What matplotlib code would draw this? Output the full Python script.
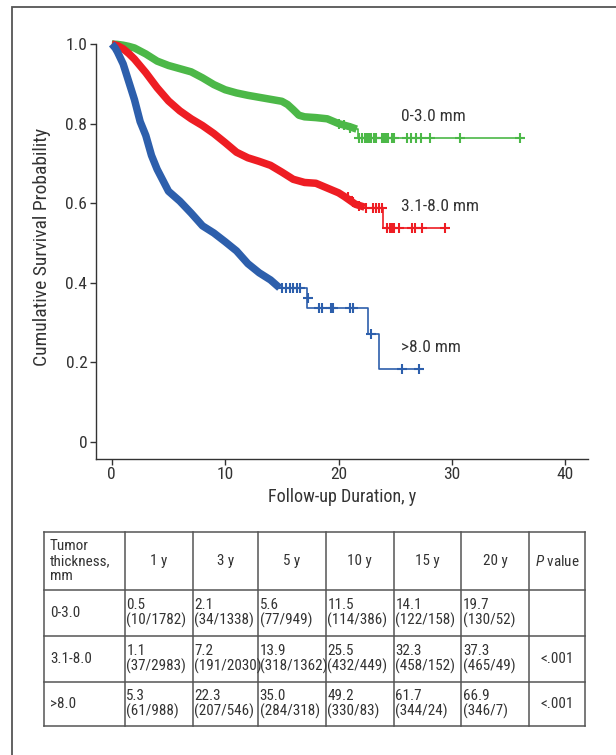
import matplotlib
matplotlib.use("Agg")
import matplotlib.pyplot as plt
from matplotlib import font_manager

# ---------------- data ----------------
groups = ["0-3.0 mm", "3.1-8.0 mm", ">8.0 mm"]
colors = ["#4cb848", "#ee1d23", "#2d5fac"]

# heavily censored (dense) part of each Kaplan-Meier curve
green_band_t = [0, 0.5, 1, 1.5, 2, 3, 4, 5, 6, 7, 8, 9, 10, 11, 12, 13, 14, 15,
                15.5, 16, 16.5, 17, 18, 19, 19.5, 20, 21, 21.6]
green_band_s = [1.0, 0.999, 0.997, 0.994, 0.99, 0.975, 0.957, 0.946, 0.938, 0.93,
                0.915, 0.898, 0.885, 0.877, 0.871, 0.866, 0.861, 0.856, 0.848,
                0.835, 0.821, 0.817, 0.815, 0.812, 0.806, 0.800, 0.792, 0.786]
red_band_t = [0, 0.5, 1, 1.5, 2, 3, 4, 5, 6, 7, 8, 9, 10, 11, 12, 13, 14, 15, 16,
              17, 18, 19, 20, 20.5, 21, 21.5, 22.3]
red_band_s = [1.0, 0.996, 0.988, 0.976, 0.962, 0.928, 0.89, 0.857, 0.832, 0.812,
              0.795, 0.775, 0.752, 0.728, 0.714, 0.705, 0.695, 0.678, 0.66, 0.652,
              0.65, 0.638, 0.626, 0.617, 0.607, 0.597, 0.59]
blue_band_t = [0, 0.3, 0.5, 1, 1.5, 2, 2.5, 3, 3.5, 4, 5, 6, 7, 8, 9, 10, 11, 12,
               13, 14, 14.8]
blue_band_s = [1.0, 0.99, 0.98, 0.95, 0.905, 0.86, 0.805, 0.77, 0.72, 0.685, 0.63,
               0.605, 0.575, 0.543, 0.525, 0.503, 0.48, 0.448, 0.425, 0.407, 0.387]

# sparse tails (step functions)
green_tail_t = [21.6, 21.7, 36.1]
green_tail_s = [0.786, 0.765, 0.765]
red_tail_t = [22.3, 23.9, 29.4]
red_tail_s = [0.588, 0.538, 0.538]
blue_tail_t = [14.8, 17.25, 22.6, 23.6, 27.35]
blue_tail_s = [0.387, 0.337, 0.27, 0.183, 0.183]

# censoring marks
green_cens_t = [20.0, 20.5, 21.0, 21.8, 22.1, 22.3, 22.5, 22.7, 22.9, 23.1, 23.3,
                23.8, 24.0, 24.2, 24.4, 24.7, 24.9, 26.0, 26.4, 26.8, 27.3, 28.1,
                30.7, 36.0]
green_cens_s = [0.80, 0.797, 0.79] + [0.765] * 21
red_cens_t = [20.8, 21.3, 21.8, 22.4, 23.0, 23.3, 23.6, 23.85, 24.3, 24.5, 24.7,
              24.9, 25.3, 26.5, 26.7, 27.4, 29.4]
red_cens_s = [0.615, 0.603, 0.592, 0.588, 0.588, 0.588, 0.588, 0.588] + [0.538] * 9
blue_cens_t = [15.0, 15.4, 15.7, 16.0, 16.3, 16.6, 17.3, 18.3, 18.5, 19.3, 19.5,
               21.0, 21.3, 22.9, 25.6, 27.1]
blue_cens_s = [0.387] * 6 + [0.362] + [0.337] * 6 + [0.27, 0.183, 0.183]

x_ticks = [0, 10, 20, 30, 40]
y_ticks = [0, 0.2, 0.4, 0.6, 0.8, 1.0]
y_ticklabels = ["0", "0.2", "0.4", "0.6", "0.8", "1.0"]
label_pos_y = [0.817, 0.591, 0.236]

# table data
intervals = ["1 y", "3 y", "5 y", "10 y", "15 y", "20 y"]
thickness = ["0-3.0", "3.1-8.0", ">8.0"]
mortality_pct = [[0.5, 2.1, 5.6, 11.5, 14.1, 19.7],
                 [1.1, 7.2, 13.9, 25.5, 32.3, 37.3],
                 [5.3, 22.3, 35.0, 49.2, 61.7, 66.9]]
deaths = [[10, 34, 77, 114, 122, 130],
          [37, 191, 318, 432, 458, 465],
          [61, 207, 284, 330, 344, 346]]
at_risk = [[1782, 1338, 949, 386, 158, 52],
           [2983, 2030, 1362, 449, 152, 49],
           [988, 546, 318, 83, 24, 7]]
p_values = ["", "<.001", "<.001"]

# ---------------- fonts ----------------
available = {f.name for f in font_manager.fontManager.ttflist}
font = "DejaVu Sans"
for cand in ["Liberation Sans Narrow", "Roboto Condensed", "Open Sans Condensed",
             "Liberation Sans"]:
    if cand in available:
        font = cand
        break
plt.rcParams["font.family"] = [font, "DejaVu Sans"]
plt.rcParams["mathtext.fontset"] = "custom"
plt.rcParams["mathtext.rm"] = font
plt.rcParams["mathtext.it"] = font + ":italic"
FS_TICK = 12.5
FS_LAB = 13
FS_YLAB = 14
FS_TAB = 10.9
TXT = "#333333"

# ---------------- figure ----------------
W, H = 616, 755
fig = plt.figure(figsize=(W / 100, H / 100), dpi=100)

# overlay for frame and table (pixel coordinates)
ov = fig.add_axes([0, 0, 1, 1])
ov.set_xlim(0, W)
ov.set_ylim(H, 0)
ov.axis("off")
ov.plot([12, 12, W], [H, 7, 7], color="#555555", lw=1.3, solid_joinstyle="miter")

ax = fig.add_axes([95.7 / W, 1 - 459 / H, (588 - 95.7) / W, (459 - 44) / H])
ax.patch.set_visible(False)

bands = [(green_band_t, green_band_s), (red_band_t, red_band_s), (blue_band_t, blue_band_s)]
tails = [(green_tail_t, green_tail_s), (red_tail_t, red_tail_s), (blue_tail_t, blue_tail_s)]
cens = [(green_cens_t, green_cens_s), (red_cens_t, red_cens_s), (blue_cens_t, blue_cens_s)]

for i in range(3):
    c = colors[i]
    bt, bs = bands[i]
    tt, ts = tails[i]
    ct, cs = cens[i]
    ax.plot(tt, ts, drawstyle="steps-post", color=c, lw=1.2, clip_on=False, zorder=3)
    ax.plot(bt, bs, color=c, lw=5.4, solid_capstyle="butt",
            solid_joinstyle="round", clip_on=False, zorder=3.1 + i * 0.1)
    ax.plot(ct, cs, linestyle="none", marker="+", color=c, markersize=6.5,
            markeredgewidth=1.5, clip_on=False, zorder=4)
    ax.text(25.5, label_pos_y[i], groups[i], fontsize=FS_TICK, color=TXT,
            va="center", ha="left")

ax.set_xlim(-1.42, 42.0)
ax.set_ylim(-0.043, 1.0)
ax.set_xticks(x_ticks)
ax.set_yticks(y_ticks)
ax.set_yticklabels(y_ticklabels)
for s in ["top", "right"]:
    ax.spines[s].set_visible(False)
for s in ["left", "bottom"]:
    ax.spines[s].set_color("#333333")
    ax.spines[s].set_linewidth(1.0)
ax.tick_params(direction="out", length=4, width=1.0, colors="#333333",
               labelsize=FS_TICK, labelcolor=TXT, pad=2)
ax.set_xlabel("Follow-up Duration, y", fontsize=FS_LAB, color=TXT, labelpad=4)
ax.set_ylabel("Cumulative Survival Probability", fontsize=FS_YLAB, color=TXT)
ax.yaxis.set_label_coords(-0.09, 0.51)

# ---------------- table ----------------
col_edges = [43.5, 124.6, 192.5, 257.9, 325.7, 393.6, 461.4, 529.3, 584.5]
row_edges = [532, 590, 636, 682, 726]
line_kw = dict(color="#555555", lw=1.1)
for x in col_edges:
    ov.plot([x, x], [row_edges[0], row_edges[-1]], **line_kw)
for y in row_edges:
    ov.plot([col_edges[0], col_edges[-1]], [y, y], **line_kw)

hy = (row_edges[0] + row_edges[1]) / 2
ov.text(col_edges[0] + 6.5, hy, "Tumor\nthickness,\nmm", fontsize=FS_TAB, color=TXT,
        ha="left", va="center", linespacing=1.08)
for j, lab in enumerate(intervals):
    xc = (col_edges[j + 1] + col_edges[j + 2]) / 2
    ov.text(xc, hy, lab, fontsize=FS_TAB, color=TXT, ha="center", va="center")
ov.text((col_edges[7] + col_edges[8]) / 2, hy, r"$\it{P}$ value", fontsize=FS_TAB,
        color=TXT, ha="center", va="center")

for i in range(3):
    yc = (row_edges[i + 1] + row_edges[i + 2]) / 2
    ov.text(col_edges[0] + 6.5, yc, thickness[i], fontsize=FS_TAB, color=TXT,
            ha="left", va="center")
    for j in range(6):
        txt = f"{mortality_pct[i][j]:.1f}\n({deaths[i][j]}/{at_risk[i][j]})"
        ov.text(col_edges[j + 1] + 1.8, yc, txt, fontsize=FS_TAB, color=TXT,
                ha="left", va="center", linespacing=1.05)
    ov.text((col_edges[7] + col_edges[8]) / 2, yc, p_values[i], fontsize=FS_TAB,
            color=TXT, ha="center", va="center")

fig.savefig("out.png", dpi=100)
